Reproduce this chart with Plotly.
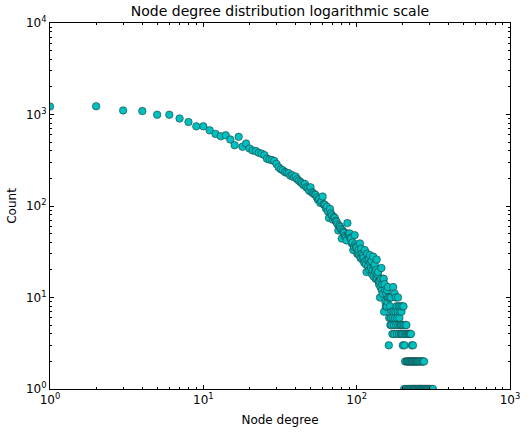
import plotly.graph_objects as go

# Node degree -> number of nodes with that degree
degrees = [
    1, 2, 3, 4, 5, 6, 7, 8, 9, 10, 11, 12, 13, 14, 15, 16, 17, 18, 19, 20,
    21, 22, 23, 24, 25, 26, 27, 28, 29, 30, 31, 32, 33, 34, 35, 36, 37, 38, 39, 40,
    41, 42, 43, 44, 45, 46, 47, 48, 49, 50, 51, 52, 53, 54, 55, 56, 57, 58, 59, 60,
    61, 62, 63, 64, 65, 66, 67, 68, 69, 70, 71, 72, 73, 74, 75, 76, 77, 78, 79, 80,
    81, 82, 83, 84, 85, 86, 87, 88, 89, 90, 91, 92, 93, 94, 95, 96, 97, 98, 99, 100,
    101, 102, 103, 104, 105, 106, 107, 108, 109, 110, 111, 112, 113, 114, 115, 116, 117, 118, 119, 120,
    121, 122, 123, 124, 125, 126, 127, 128, 129, 130, 131, 132, 133, 134, 135, 136, 137, 138, 139, 140,
    141, 142, 143, 144, 145, 146, 147, 148, 149, 150, 151, 152, 153, 154, 155, 156, 157, 158, 159, 160,
    161, 162, 163, 164, 165, 166, 167, 168, 169, 170, 171, 172, 173, 174, 175, 176, 177, 178, 179, 180,
    181, 182, 183, 184, 185, 186, 187, 188, 189, 190, 191, 192, 193, 194, 195, 196, 197, 198, 199, 200,
    201, 202, 203, 204, 205, 206, 207, 208, 209, 210, 211, 212, 213, 214, 215, 216, 217, 218, 219, 220,
    221, 222, 223, 224, 225, 226, 227, 228, 229, 230, 231, 232, 233, 234, 235, 236, 237, 238, 240, 241,
    243, 244, 246, 247, 249, 250, 252, 254, 255, 257, 258, 260, 262, 263, 265, 267, 268, 270, 272, 273,
    275, 276, 279, 282, 284, 287, 290, 293, 297, 301, 305, 310, 314,
]
counts = [
    1222, 1232, 1107, 1090, 994, 994, 905, 828, 742, 742, 671, 614, 578, 593, 533, 462, 570, 444, 482, 425,
    405, 398, 382, 373, 360, 329, 322, 318, 310, 288, 265, 252, 246, 235, 231, 228, 214, 217, 206, 210,
    196, 189, 183, 177, 169, 174, 160, 156, 147, 160, 141, 138, 134, 132, 124, 117, 119, 108, 113, 127,
    104, 103, 94, 98, 87, 74, 93, 83, 79, 71, 76, 74, 69, 67, 63, 54, 61, 59, 56, 44,
    54, 52, 51, 47, 45, 42, 65, 50, 48, 50, 45, 44, 39, 40, 33, 36, 48, 38, 36, 35,
    30, 31, 33, 29, 39, 27, 34, 30, 26, 29, 27, 24, 33, 25, 23, 19, 30, 26, 22, 27,
    20, 29, 24, 21, 25, 18, 20, 28, 17, 22, 23, 19, 16, 20, 26, 16, 18, 19, 15, 14,
    15, 10, 13, 16, 21, 12, 14, 11, 16, 16, 7, 14, 12, 9, 8, 11, 8, 12, 9, 13,
    10, 3, 6, 10, 8, 5, 6, 10, 5, 7, 4, 6, 13, 7, 5, 4, 11, 6, 7, 10,
    5, 8, 4, 6, 7, 10, 5, 8, 4, 6, 7, 5, 8, 4, 5, 7, 4, 8, 5, 3,
    4, 8, 5, 1, 3, 4, 2, 5, 1, 4, 5, 2, 1, 4, 2, 1, 4, 2, 1, 4,
    2, 1, 4, 2, 1, 4, 2, 1, 3, 2, 1, 2, 3, 1, 2, 1, 1, 2, 1, 2,
    1, 2, 1, 2, 1, 2, 1, 2, 1, 1, 2, 1, 1, 2, 1, 1, 2, 1, 2, 1,
    2, 1, 1, 1, 1, 1, 1, 1, 1, 1, 1, 1, 1,
]

x_tickvals = [1, 10, 100, 1000]
x_ticktext = ["10<sup>0</sup>", "10<sup>1</sup>", "10<sup>2</sup>", "10<sup>3</sup>"]
y_tickvals = [1, 10, 100, 1000, 10000]
y_ticktext = ["10<sup>0</sup>", "10<sup>1</sup>", "10<sup>2</sup>", "10<sup>3</sup>", "10<sup>4</sup>"]

FONT = "DejaVu Sans"

fig = go.Figure(
    go.Scatter(
        x=degrees,
        y=counts,
        mode="markers",
        marker=dict(size=7.5, color="#00BFBF", line=dict(color="#1a3a3a", width=0.6)),
        cliponaxis=True,
    )
)

axis_common = dict(
    type="log",
    showgrid=False,
    zeroline=False,
    showline=True,
    linecolor="black",
    linewidth=1,
    mirror="ticks",
    ticks="inside",
    ticklen=4,
    tickcolor="black",
    tickfont=dict(family=FONT, size=12, color="black"),
    minor=dict(ticks="inside", ticklen=2, tickcolor="black", dtick="D1", showgrid=False),
)

fig.update_xaxes(
    **axis_common,
    range=[0, 3],
    tickvals=x_tickvals,
    ticktext=x_ticktext,
    title=dict(text="Node degree", font=dict(family=FONT, size=12, color="black"), standoff=9),
)
fig.update_yaxes(
    **axis_common,
    range=[0, 4],
    tickvals=y_tickvals,
    ticktext=y_ticktext,
    title=dict(text="Count", font=dict(family=FONT, size=12, color="black"), standoff=6),
)

fig.update_layout(
    width=532,
    height=437,
    margin=dict(l=49, r=20, t=23, b=45),
    plot_bgcolor="white",
    paper_bgcolor="white",
    showlegend=False,
    title=dict(
        text="Node degree distribution logarithmic scale",
        font=dict(family=FONT, size=14, color="black"),
        x=0.5,
        xanchor="center",
        xref="paper",
        y=0.985,
        yanchor="top",
    ),
)

fig.write_html("out.html")
